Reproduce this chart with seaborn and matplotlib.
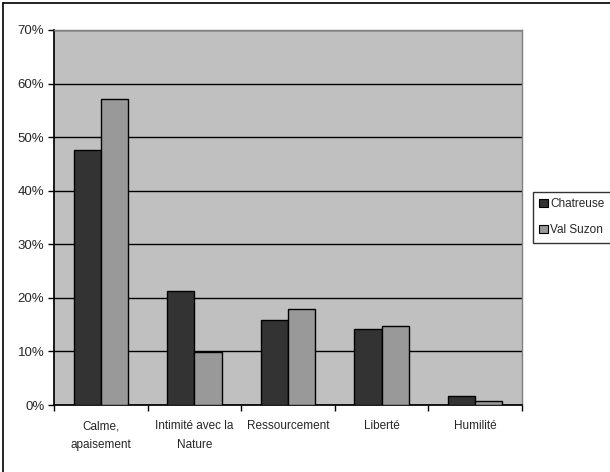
import matplotlib
matplotlib.use("Agg")
import matplotlib.pyplot as plt
from matplotlib.patches import Patch
from matplotlib.lines import Line2D
from matplotlib.ticker import PercentFormatter
import seaborn as sns
import pandas as pd

categories = ["Calme,\napaisement", "Intimité avec la\nNature", "Ressourcement", "Liberté", "Humilité"]
series_names = ["Chatreuse", "Val Suzon"]
chatreuse = [47.6, 21.3, 15.9, 14.2, 1.7]
val_suzon = [57.2, 9.9, 17.9, 14.7, 0.7]
y_ticks = [0, 10, 20, 30, 40, 50, 60, 70]

colors = {"Chatreuse": "#333333", "Val Suzon": "#999999"}

df = pd.DataFrame({
    "categorie": categories * 2,
    "serie": [series_names[0]] * len(categories) + [series_names[1]] * len(categories),
    "valeur": chatreuse + val_suzon,
})

sns.set_theme(style="white")
plt.rcParams["font.family"] = ["Liberation Sans", "DejaVu Sans"]

W, H = 610, 472
fig = plt.figure(figsize=(W / 100, H / 100), dpi=100)
fig.patch.set_facecolor("white")

left, right, top, bottom = 54, 522, 30, 405
ax = fig.add_axes([left / W, 1 - bottom / H, (right - left) / W, (bottom - top) / H])
ax.set_facecolor("#C0C0C0")

sns.barplot(data=df, x="categorie", y="valeur", hue="serie", palette=colors,
            width=0.58, edgecolor="black", linewidth=1.0, saturation=1,
            ax=ax, legend=False, zorder=3)

ax.set_ylim(0, 70)
ax.set_xlim(-0.5, len(categories) - 0.5)
ax.set_yticks(y_ticks)
ax.yaxis.set_major_formatter(PercentFormatter(decimals=0))
ax.grid(axis="y", color="black", linewidth=1.0, zorder=1)
ax.set_axisbelow(True)

# category separators as outward ticks on the x axis
ax.set_xticks([i + 0.5 for i in range(-1, len(categories))], minor=True)
ax.tick_params(axis="x", which="major", length=0, pad=11, labelsize=8.5)
ax.tick_params(axis="x", which="minor", direction="out", length=4, width=1, color="black", bottom=True)
ax.tick_params(axis="y", which="major", direction="out", length=4, width=1, color="black", left=True,
               labelsize=9.5, pad=3)
for lbl in ax.get_xticklabels():
    lbl.set_linespacing(1.75)
ax.set_xlabel("")
ax.set_ylabel("")

for side in ("top", "right"):
    ax.spines[side].set_color("#808080")
    ax.spines[side].set_linewidth(1.0)
ax.spines["left"].set_color("black")
ax.spines["bottom"].set_color("black")

# outer chart frame
fig.add_artist(Line2D([3 / W, 1], [1 - 3 / H, 1 - 3 / H], color="black", linewidth=1.2))
fig.add_artist(Line2D([3 / W, 3 / W], [0, 1 - 3 / H], color="black", linewidth=1.2))

handles = [Patch(facecolor=colors[s], edgecolor="black", linewidth=0.8) for s in series_names]
fig.legend(handles, series_names, loc="upper left",
           bbox_to_anchor=(533 / W, 1 - 192 / H), frameon=True, fancybox=False,
           edgecolor="black", fontsize=8.5, handlelength=0.7, handleheight=0.7,
           handletextpad=0.2, borderpad=0.55, labelspacing=1.15, borderaxespad=0)

fig.savefig("out.png", dpi=100)
